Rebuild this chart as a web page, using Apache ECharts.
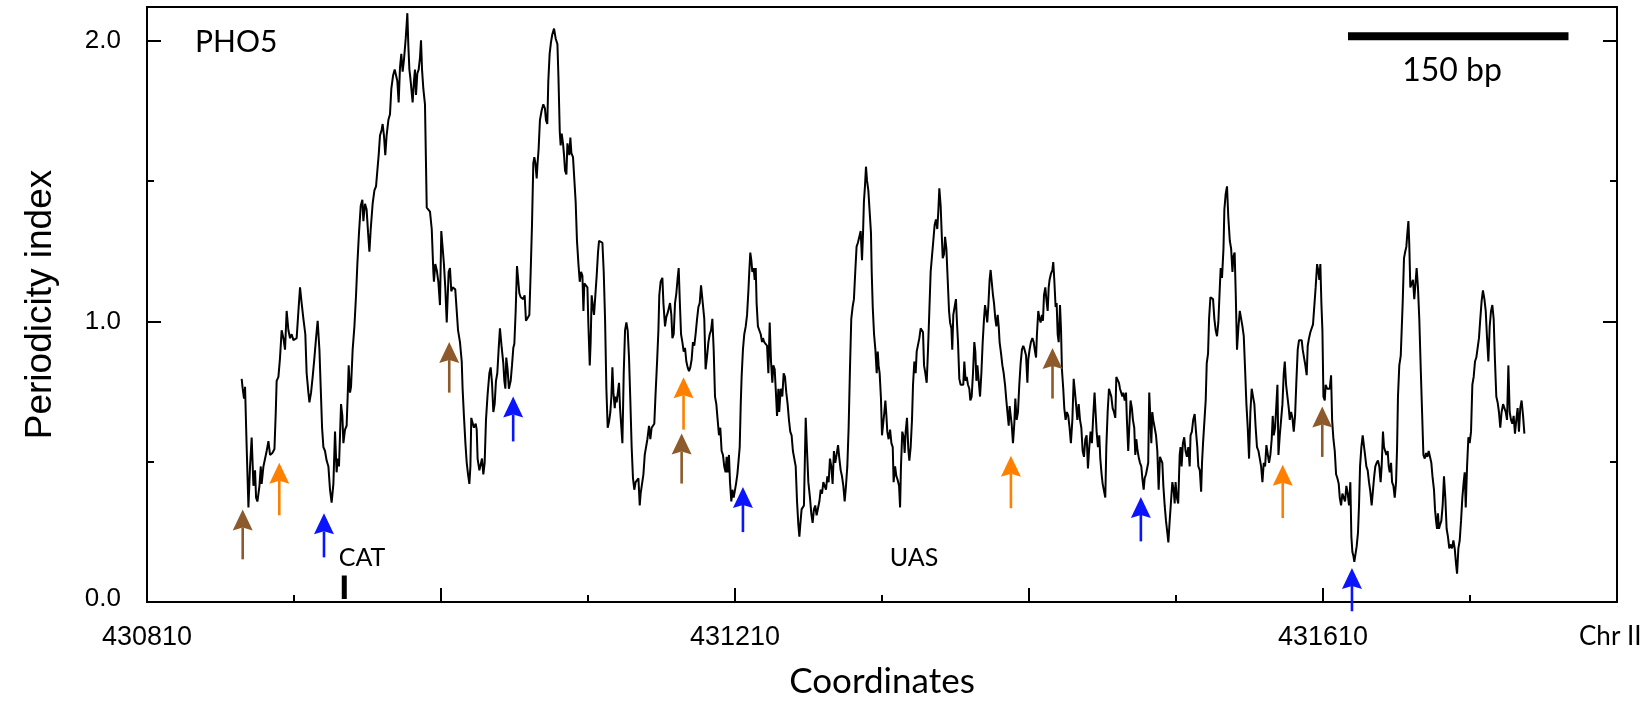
<!DOCTYPE html>
<html>
<head>
<meta charset="utf-8">
<title>PHO5 periodicity index</title>
<script src="https://cdn.jsdelivr.net/npm/echarts@6/dist/echarts.min.js"></script>
<style>
  html, body { margin: 0; padding: 0; background: #ffffff; }
  #chart { width: 1647px; height: 702px; }
</style>
</head>
<body>
<div id="chart"></div>
<script>
// Chromosome II window shown on the x axis
const coordStart = 430810;
const coordEnd = 431810;
const xLabelCoords = [430810, 431210, 431610];
const yLabelValues = [0, 1, 2];
const yMax = 2.12;

// Periodicity index along the PHO5 locus: [coordinate, index]
const periodicity = [
  [430874.4,0.795],[430875.1,0.760],[430876.0,0.725],[430876.7,0.767],[430877.8,0.552],[430879.0,0.337],[430880.1,0.483],[430881.2,0.586],
  [430882.4,0.414],[430883.5,0.469],[430884.2,0.372],[430885.1,0.358],[430886.5,0.414],[430887.4,0.483],[430888.0,0.421],[430889.2,0.483],
  [430890.3,0.489],[430891.4,0.538],[430892.6,0.573],[430893.7,0.524],[430895.3,0.531],[430896.7,0.545],[430897.6,0.677],[430898.2,0.788],
  [430899.4,0.802],[430900.5,0.871],[430901.6,0.968],[430902.8,0.940],[430903.9,0.899],[430905.0,1.037],[430906.2,0.968],[430907.3,0.940],
  [430908.4,0.954],[430909.6,0.933],[430910.7,0.940],[430911.8,0.940],[430913.0,1.037],[430914.1,1.121],[430915.2,1.065],[430916.4,1.009],
  [430917.7,0.954],[430918.6,0.815],[430919.8,0.746],[430920.5,0.711],[430921.6,0.746],[430922.7,0.802],[430923.9,0.871],[430925.0,0.940],
  [430926.1,1.002],[430927.3,0.899],[430928.2,0.760],[430929.1,0.621],[430930.0,0.552],[430931.1,0.538],[430932.2,0.504],[430933.4,0.483],
  [430934.5,0.400],[430935.6,0.354],[430936.8,0.421],[430937.9,0.607],[430939.0,0.462],[430939.7,0.511],[430940.6,0.483],[430942.0,0.705],
  [430942.9,0.663],[430943.6,0.566],[430944.7,0.614],[430945.8,0.628],[430946.5,0.732],[430947.2,0.843],[430948.1,0.746],[430948.8,0.767],
  [430949.9,0.899],[430951.1,0.982],[430952.2,1.093],[430953.1,1.204],[430954.2,1.315],[430955.4,1.412],[430956.5,1.433],[430957.2,1.357],
  [430958.3,1.419],[430959.4,1.398],[430960.4,1.315],[430961.3,1.248],[430962.2,1.329],[430963.5,1.419],[430964.7,1.467],[430965.8,1.481],
  [430966.7,1.537],[430967.6,1.592],[430968.5,1.662],[430969.6,1.682],[430970.3,1.703],[430971.2,1.662],[430972.1,1.592],[430973.0,1.662],
  [430974.2,1.717],[430975.3,1.738],[430976.2,1.828],[430977.4,1.876],[430978.5,1.897],[430979.4,1.904],[430980.3,1.856],[430981.2,1.780],
  [430982.1,1.904],[430983.0,1.953],[430983.9,1.890],[430984.8,1.932],[430986.0,2.008],[430986.7,2.064],[430987.1,2.098],[430987.8,1.980],
  [430988.5,1.897],[430989.1,1.870],[430990.1,1.814],[430990.7,1.780],[430991.6,1.856],[430992.3,1.897],[430993.0,1.807],[430993.9,1.883],
  [430994.8,1.897],[430995.7,1.939],[430996.4,2.001],[430997.1,1.897],[430998.0,1.828],[430999.1,1.773],[431000.3,1.405],[431001.4,1.398],
  [431002.5,1.391],[431003.7,1.329],[431004.8,1.176],[431005.2,1.141],[431006.1,1.204],[431007.1,1.183],[431008.2,1.141],[431009.3,1.058],
  [431010.2,1.322],[431011.1,1.315],[431012.0,1.204],[431012.9,1.121],[431013.9,0.996],[431014.5,0.996],[431015.2,1.176],[431016.1,1.190],
  [431017.0,1.107],[431017.9,1.121],[431018.8,1.128],[431019.7,1.114],[431020.7,1.107],[431021.6,0.968],[431022.9,0.926],[431024.1,0.857],
  [431024.7,0.760],[431025.6,0.663],[431026.6,0.566],[431027.5,0.496],[431028.4,0.455],[431029.3,0.421],[431030.0,0.483],[431030.6,0.656],
  [431031.5,0.649],[431032.4,0.621],[431033.6,0.635],[431034.3,0.614],[431034.9,0.511],[431036.1,0.469],[431037.0,0.469],[431037.9,0.511],
  [431038.8,0.455],[431039.7,0.496],[431040.6,0.649],[431041.7,0.739],[431042.9,0.815],[431043.8,0.836],[431044.7,0.781],[431045.6,0.677],
  [431046.5,0.705],[431047.4,0.788],[431048.3,0.815],[431049.2,0.899],[431050.1,0.975],[431051.3,0.906],[431052.4,0.850],[431053.1,0.788],
  [431053.8,0.760],[431054.4,0.871],[431055.3,0.829],[431056.2,0.760],[431057.4,0.788],[431058.3,0.843],[431059.2,0.906],[431059.9,0.920],
  [431060.8,1.037],[431061.7,1.197],[431062.6,1.190],[431063.3,1.100],[431064.2,1.086],[431065.1,1.093],[431066.0,1.079],[431066.9,1.093],
  [431067.8,1.002],[431068.9,1.009],[431070.1,1.023],[431071.0,1.176],[431071.9,1.343],[431072.8,1.564],[431073.5,1.585],[431074.2,1.564],
  [431075.1,1.509],[431075.7,1.564],[431076.4,1.613],[431077.3,1.717],[431078.5,1.752],[431079.6,1.773],[431080.7,1.759],[431081.4,1.717],
  [431082.3,1.703],[431083.0,1.856],[431083.9,1.953],[431084.8,1.994],[431085.7,2.022],[431086.9,2.043],[431087.8,2.050],[431088.0,2.008],
  [431089.2,1.987],[431089.9,1.870],[431090.8,1.675],[431091.4,1.627],[431092.1,1.669],[431093.0,1.634],[431093.7,1.592],[431094.4,1.537],
  [431095.3,1.523],[431096.0,1.634],[431096.6,1.641],[431097.3,1.592],[431098.0,1.655],[431098.7,1.599],[431099.8,1.585],[431100.7,1.578],
  [431101.6,1.426],[431102.5,1.287],[431103.5,1.204],[431104.4,1.141],[431105.3,1.176],[431106.2,1.162],[431106.9,1.037],[431107.5,1.135],
  [431108.4,1.128],[431109.6,1.121],[431110.3,0.982],[431111.2,0.843],[431111.8,0.926],[431112.5,1.093],[431113.4,1.051],[431114.1,1.023],
  [431115.0,1.093],[431115.9,1.162],[431116.8,1.245],[431117.5,1.287],[431118.6,1.294],[431119.8,1.280],[431120.7,1.176],[431121.6,1.009],
  [431122.5,0.760],[431123.4,0.621],[431124.3,0.642],[431125.2,0.677],[431125.9,0.732],[431126.6,0.836],[431127.3,0.746],[431128.2,0.691],
  [431128.8,0.732],[431129.5,0.711],[431130.4,0.718],[431131.1,0.781],[431131.8,0.691],[431132.7,0.621],[431133.4,0.566],[431134.3,0.815],
  [431135.2,0.968],[431136.1,0.996],[431137.0,0.968],[431137.9,0.871],[431138.8,0.718],[431139.7,0.552],[431140.6,0.441],[431141.5,0.400],
  [431142.4,0.427],[431143.3,0.434],[431144.3,0.441],[431145.2,0.344],[431145.8,0.386],[431146.7,0.379],[431147.7,0.455],[431148.6,0.524],
  [431149.5,0.531],[431150.4,0.580],[431151.5,0.628],[431152.4,0.580],[431153.3,0.621],[431154.2,0.614],[431155.1,0.635],[431156.0,0.746],
  [431157.0,0.857],[431157.9,0.968],[431158.5,1.093],[431159.4,1.141],[431160.6,1.155],[431161.3,1.065],[431162.4,0.982],[431163.3,1.016],
  [431164.2,1.030],[431165.1,1.023],[431165.8,1.065],[431166.7,1.023],[431167.4,0.940],[431168.3,0.954],[431169.2,1.065],[431170.1,1.100],
  [431171.0,1.155],[431171.7,1.190],[431172.4,1.079],[431173.3,0.954],[431174.2,0.926],[431175.1,0.892],[431176.0,0.906],[431176.9,0.857],
  [431177.8,0.836],[431178.7,0.822],[431179.6,0.836],[431180.5,0.864],[431181.4,0.926],[431182.3,0.913],[431183.2,0.954],[431184.2,1.009],
  [431185.1,1.051],[431186.0,1.065],[431186.9,1.128],[431188.2,1.128],[431189.1,1.009],[431190.0,0.829],[431190.9,0.871],[431191.9,0.926],
  [431192.8,0.954],[431193.7,0.968],[431194.6,1.009],[431195.5,0.899],[431196.4,0.732],[431197.3,0.705],[431198.2,0.649],[431199.1,0.594],
  [431200.0,0.621],[431200.9,0.538],[431201.8,0.524],[431202.7,0.483],[431203.6,0.462],[431204.3,0.517],[431205.0,0.462],[431205.9,0.524],
  [431206.6,0.427],[431207.5,0.358],[431208.2,0.400],[431209.1,0.372],[431209.8,0.393],[431210.7,0.421],[431211.6,0.455],[431212.3,0.496],
  [431213.2,0.552],[431213.9,0.705],[431214.5,0.802],[431215.4,0.899],[431216.3,0.954],[431217.3,0.982],[431218.2,1.023],[431219.1,1.107],
  [431219.7,1.176],[431220.4,1.245],[431221.1,1.218],[431221.8,1.176],[431222.7,1.190],[431223.4,1.148],[431224.1,1.190],[431224.7,1.065],
  [431225.6,0.982],[431226.5,0.975],[431227.5,0.954],[431228.4,0.926],[431229.0,0.940],[431229.9,0.926],[431230.9,0.933],[431231.8,0.913],
  [431232.7,0.815],[431233.6,0.996],[431234.5,0.857],[431235.4,0.781],[431236.1,0.843],[431237.0,0.829],[431237.7,0.760],[431238.6,0.663],
  [431239.5,0.760],[431240.1,0.677],[431241.1,0.760],[431242.2,0.732],[431243.1,0.815],[431244.0,0.802],[431244.9,0.746],[431245.8,0.705],
  [431246.7,0.649],[431247.6,0.607],[431248.5,0.594],[431249.4,0.538],[431250.3,0.538],[431251.3,0.483],[431252.2,0.358],[431253.1,0.275],
  [431253.8,0.233],[431254.4,0.275],[431255.3,0.330],[431256.2,0.337],[431256.9,0.344],[431258.1,0.656],[431259.0,0.538],[431259.9,0.427],
  [431261.0,0.372],[431261.9,0.316],[431262.8,0.282],[431263.7,0.330],[431264.6,0.344],[431265.5,0.309],[431266.4,0.303],[431267.4,0.358],
  [431268.3,0.400],[431269.2,0.386],[431270.1,0.427],[431271.0,0.414],[431271.9,0.400],[431272.8,0.448],[431273.7,0.427],[431274.6,0.511],
  [431275.5,0.483],[431276.4,0.421],[431277.3,0.538],[431278.2,0.496],[431279.1,0.524],[431280.1,0.559],[431281.0,0.511],[431281.9,0.469],
  [431282.8,0.448],[431283.7,0.414],[431284.6,0.358],[431285.5,0.414],[431286.4,0.483],[431287.3,0.621],[431288.2,0.829],[431289.1,1.009],
  [431290.0,1.051],[431290.9,1.079],[431291.8,1.176],[431292.7,1.266],[431293.6,1.280],[431294.5,1.287],[431295.5,1.322],[431296.4,1.218],
  [431297.1,1.315],[431297.7,1.426],[431298.4,1.481],[431299.1,1.551],[431299.8,1.502],[431300.7,1.467],[431301.6,1.474],[431302.5,1.315],
  [431303.0,1.176],[431303.7,1.051],[431304.6,0.954],[431305.5,0.899],[431306.4,0.815],[431307.1,0.892],[431307.7,0.843],[431308.4,0.815],
  [431309.3,0.725],[431310.0,0.594],[431310.9,0.587],[431311.6,0.677],[431312.3,0.718],[431313.0,0.663],[431313.6,0.607],[431314.5,0.580],
  [431315.5,0.614],[431316.4,0.566],[431317.3,0.552],[431317.9,0.427],[431318.9,0.483],[431319.8,0.448],[431320.7,0.434],[431321.6,0.414],
  [431322.3,0.337],[431322.9,0.483],[431323.8,0.607],[431324.8,0.587],[431325.4,0.531],[431326.1,0.607],[431327.0,0.656],[431327.9,0.545],
  [431328.6,0.504],[431329.5,0.552],[431330.4,0.649],[431331.1,0.774],[431332.0,0.857],[431332.9,0.815],[431333.6,0.892],[431334.5,0.899],
  [431335.4,0.940],[431336.3,0.975],[431337.2,0.982],[431337.9,0.961],[431338.6,0.843],[431339.5,0.815],[431340.4,0.781],[431341.3,0.899],
  [431342.2,1.037],[431343.1,1.176],[431344.0,1.232],[431344.9,1.287],[431345.8,1.343],[431346.7,1.363],[431347.6,1.329],[431348.3,1.391],
  [431349.0,1.474],[431349.9,1.412],[431350.6,1.315],[431351.3,1.225],[431352.2,1.239],[431352.9,1.301],[431353.8,1.259],[431354.7,1.148],
  [431355.6,1.037],[431356.3,0.996],[431357.2,0.975],[431357.8,0.899],[431358.5,1.023],[431359.4,1.051],[431360.3,1.079],[431361.0,0.996],
  [431361.7,0.926],[431362.6,0.795],[431363.5,0.774],[431364.4,0.781],[431365.3,0.774],[431366.0,0.857],[431366.9,0.788],[431367.6,0.802],
  [431368.5,0.774],[431369.4,0.760],[431370.1,0.718],[431371.0,0.732],[431371.9,0.815],[431372.8,0.926],[431373.5,0.892],[431374.2,0.788],
  [431374.9,0.843],[431375.8,0.788],[431376.7,0.732],[431377.6,0.815],[431378.5,0.926],[431379.4,1.009],[431380.1,1.058],[431380.7,1.037],
  [431381.6,0.996],[431382.3,1.051],[431383.2,1.148],[431383.9,1.183],[431384.8,1.176],[431385.5,1.093],[431386.2,1.065],[431387.1,1.009],
  [431387.8,0.982],[431388.7,1.023],[431389.4,0.982],[431390.0,0.926],[431391.0,0.885],[431391.9,0.843],[431392.8,0.815],[431393.7,0.774],
  [431394.6,0.718],[431395.3,0.677],[431396.2,0.628],[431396.8,0.698],[431397.5,0.691],[431398.2,0.635],[431399.1,0.566],[431400.0,0.635],
  [431400.7,0.725],[431401.6,0.649],[431402.5,0.677],[431403.4,0.774],[431404.3,0.850],[431405.2,0.899],[431406.1,0.913],[431407.0,0.899],
  [431408.0,0.878],[431408.9,0.781],[431409.5,0.864],[431410.4,0.899],[431411.3,0.926],[431412.3,0.940],[431413.2,0.926],[431414.1,0.892],
  [431414.8,0.871],[431415.4,0.954],[431416.3,1.037],[431417.2,1.009],[431417.9,0.996],[431418.8,1.023],[431419.5,1.002],[431420.2,1.093],
  [431421.1,1.121],[431421.8,1.079],[431422.7,1.037],[431423.4,1.121],[431424.0,1.148],[431424.9,1.169],[431425.9,1.183],[431426.5,1.211],
  [431427.2,1.148],[431428.1,1.051],[431428.8,1.065],[431429.5,0.954],[431430.2,0.926],[431431.1,1.058],[431431.8,0.968],[431432.4,0.829],
  [431433.3,0.760],[431434.0,0.691],[431434.9,0.649],[431435.8,0.677],[431436.7,0.663],[431437.6,0.621],[431438.5,0.566],[431439.5,0.649],
  [431440.4,0.795],[431441.3,0.746],[431442.0,0.705],[431442.9,0.649],[431443.8,0.705],[431444.7,0.649],[431445.6,0.621],[431446.5,0.538],
  [431447.4,0.517],[431448.3,0.580],[431449.2,0.594],[431450.1,0.476],[431451.0,0.552],[431451.9,0.607],[431452.8,0.566],[431453.7,0.663],
  [431454.6,0.746],[431455.3,0.677],[431456.0,0.607],[431456.9,0.552],[431457.8,0.594],[431458.5,0.511],[431459.4,0.455],[431460.1,0.421],
  [431461.0,0.427],[431461.9,0.372],[431462.6,0.552],[431463.5,0.677],[431464.4,0.760],[431465.3,0.767],[431466.0,0.732],[431466.9,0.691],
  [431467.8,0.677],[431468.7,0.656],[431469.4,0.802],[431470.3,0.795],[431471.2,0.781],[431471.9,0.760],[431472.8,0.760],[431473.5,0.732],
  [431474.1,0.746],[431475.1,0.718],[431476.0,0.746],[431476.6,0.649],[431477.5,0.538],[431478.2,0.621],[431479.1,0.718],[431480.0,0.691],
  [431480.7,0.649],[431481.6,0.621],[431482.3,0.524],[431483.0,0.580],[431483.9,0.538],[431484.8,0.511],[431485.5,0.496],[431486.4,0.483],
  [431487.1,0.441],[431488.0,0.400],[431488.7,0.441],[431489.6,0.455],[431490.5,0.462],[431491.1,0.496],[431491.8,0.746],[431492.5,0.663],
  [431493.2,0.566],[431493.9,0.677],[431494.5,0.649],[431495.5,0.621],[431496.4,0.594],[431497.3,0.538],[431498.2,0.400],[431499.1,0.517],
  [431500.0,0.517],[431500.7,0.496],[431501.4,0.414],[431502.3,0.344],[431503.2,0.289],[431504.1,0.247],[431504.8,0.212],[431505.7,0.289],
  [431506.6,0.358],[431507.5,0.427],[431508.4,0.400],[431509.1,0.351],[431509.7,0.427],[431510.6,0.372],[431511.5,0.351],[431512.5,0.524],
  [431513.1,0.552],[431513.8,0.483],[431514.7,0.566],[431515.6,0.587],[431516.5,0.538],[431517.4,0.517],[431518.4,0.552],[431519.3,0.483],
  [431519.9,0.594],[431520.8,0.607],[431521.7,0.649],[431522.7,0.670],[431523.6,0.607],[431524.5,0.552],[431525.2,0.483],[431526.2,0.469],
  [431527.1,0.393],[431527.7,0.496],[431528.4,0.566],[431529.6,0.573],[431530.2,0.718],[431530.9,0.850],[431531.8,0.885],[431532.5,1.009],
  [431533.4,1.086],[431534.3,1.093],[431535.2,1.079],[431536.1,1.009],[431537.0,0.968],[431537.9,0.947],[431538.8,0.996],[431539.8,1.121],
  [431540.4,1.190],[431541.3,1.155],[431542.3,1.259],[431542.9,1.398],[431543.8,1.454],[431544.7,1.481],[431545.6,1.370],[431546.6,1.287],
  [431547.5,1.259],[431548.4,1.176],[431549.1,1.232],[431549.9,1.245],[431550.6,1.107],[431551.5,0.899],[431552.5,0.982],[431553.4,1.037],
  [431554.3,1.037],[431555.2,0.982],[431556.1,0.947],[431557.0,0.829],[431557.9,0.705],[431558.8,0.621],[431559.7,0.511],[431560.6,0.677],
  [431561.5,0.760],[431562.4,0.732],[431563.3,0.705],[431564.2,0.621],[431565.1,0.552],[431566.1,0.538],[431567.0,0.511],[431567.9,0.483],
  [431568.8,0.427],[431569.7,0.496],[431570.6,0.483],[431571.5,0.559],[431572.4,0.552],[431573.3,0.496],[431574.2,0.524],[431575.1,0.580],
  [431575.8,0.663],[431576.5,0.594],[431577.4,0.621],[431578.3,0.705],[431579.0,0.774],[431579.7,0.524],[431580.6,0.594],[431581.5,0.649],
  [431582.4,0.705],[431583.3,0.815],[431584.0,0.857],[431584.9,0.774],[431585.8,0.732],[431586.7,0.691],[431587.4,0.649],[431588.3,0.677],
  [431589.2,0.656],[431590.1,0.607],[431591.0,0.663],[431591.9,0.788],[431592.8,0.899],[431593.7,0.933],[431594.6,0.940],[431595.5,0.933],
  [431596.2,0.899],[431597.1,0.871],[431598.0,0.843],[431598.9,0.808],[431599.6,0.913],[431600.5,0.940],[431601.4,0.961],[431602.3,0.968],
  [431603.2,0.989],[431604.1,0.996],[431605.0,1.121],[431606.0,1.204],[431606.9,1.176],[431607.5,1.148],[431608.2,1.204],[431608.9,1.065],
  [431609.6,0.968],[431610.3,0.732],[431611.2,0.718],[431611.8,0.774],[431612.8,0.760],[431613.7,0.767],[431614.6,0.760],[431615.5,0.808],
  [431616.2,0.649],[431617.1,0.580],[431618.0,0.538],[431618.9,0.455],[431619.8,0.441],[431620.7,0.421],[431621.4,0.372],[431622.3,0.344],
  [431623.2,0.386],[431624.1,0.372],[431625.0,0.358],[431625.9,0.414],[431626.8,0.386],[431627.7,0.344],[431628.6,0.427],[431629.3,0.233],
  [431630.0,0.178],[431630.7,0.164],[431631.3,0.143],[431632.0,0.136],[431632.9,0.198],[431633.8,0.247],[431634.5,0.344],[431635.2,0.483],
  [431636.1,0.552],[431637.0,0.594],[431637.9,0.600],[431638.6,0.524],[431639.5,0.483],[431640.4,0.469],[431641.3,0.427],[431642.2,0.393],
  [431643.1,0.344],[431643.8,0.386],[431644.7,0.441],[431645.6,0.483],[431646.5,0.496],[431647.4,0.504],[431648.3,0.483],[431649.2,0.427],
  [431649.9,0.483],[431650.8,0.607],[431651.5,0.552],[431652.4,0.559],[431653.1,0.524],[431654.0,0.538],[431654.7,0.483],[431655.4,0.462],
  [431656.3,0.496],[431657.0,0.427],[431657.9,0.414],[431658.8,0.372],[431659.7,0.427],[431660.4,0.552],[431661.0,0.732],[431661.9,0.843],
  [431662.9,0.878],[431663.5,0.885],[431664.2,1.065],[431665.1,1.225],[431665.8,1.245],[431666.7,1.266],[431667.4,1.315],[431668.1,1.357],
  [431668.7,1.273],[431669.4,1.121],[431670.3,1.121],[431671.2,1.148],[431672.1,1.079],[431673.1,1.148],[431673.7,1.190],[431674.6,1.121],
  [431675.5,1.009],[431676.5,0.829],[431677.4,0.677],[431678.3,0.524],[431679.2,0.511],[431680.1,0.531],[431681.0,0.517],[431681.9,0.538],
  [431682.8,0.531],[431683.7,0.496],[431684.6,0.441],[431685.5,0.400],[431686.2,0.330],[431686.9,0.289],[431687.6,0.261],[431688.2,0.316],
  [431688.9,0.261],[431689.6,0.275],[431690.5,0.289],[431691.4,0.344],[431692.3,0.448],[431693.2,0.372],[431694.1,0.261],[431695.0,0.233],
  [431695.9,0.191],[431696.9,0.205],[431697.8,0.191],[431698.7,0.219],[431699.6,0.191],[431700.5,0.136],[431701.2,0.101],[431702.1,0.191],
  [431703.0,0.219],[431703.9,0.289],[431704.8,0.372],[431705.7,0.427],[431706.4,0.462],[431707.1,0.337],[431708.0,0.483],[431708.9,0.587],
  [431709.8,0.566],[431710.7,0.607],[431711.6,0.774],[431712.5,0.802],[431713.4,0.857],[431714.3,0.871],[431715.2,0.878],[431716.1,0.940],
  [431717.0,1.009],[431717.9,1.072],[431718.8,1.110],[431719.8,1.079],[431720.7,1.037],[431721.6,0.940],[431722.5,0.857],[431723.4,0.982],
  [431724.3,1.037],[431725.2,1.058],[431726.1,1.009],[431727.0,0.857],[431727.9,0.732],[431728.8,0.711],[431729.7,0.677],[431730.6,0.621],
  [431731.5,0.677],[431732.5,0.705],[431733.4,0.691],[431734.3,0.677],[431735.2,0.649],[431736.1,0.843],[431737.0,0.677],[431737.9,0.649],
  [431738.8,0.635],[431739.7,0.663],[431740.6,0.600],[431741.5,0.649],[431742.4,0.691],[431743.3,0.607],[431744.2,0.691],[431745.1,0.718],
  [431746.1,0.663],[431747.0,0.600]
];

// Upward arrows: [coordinate, tip index, tail index]
const brownArrows = [
  [430875.1, 0.330, 0.152],
  [431015.6, 0.926, 0.746],
  [431173.7, 0.600, 0.422],
  [431426.0, 0.905, 0.725],
  [431609.5, 0.697, 0.517]
];
const orangeArrows = [
  [430900.0, 0.496, 0.309],
  [431175.0, 0.801, 0.614],
  [431397.7, 0.521, 0.334],
  [431582.6, 0.489, 0.299]
];
const blueArrows = [
  [430930.4, 0.316, 0.159],
  [431059.1, 0.732, 0.572],
  [431215.4, 0.410, 0.249],
  [431486.1, 0.374, 0.216],
  [431629.7, 0.121, -0.033]
];

// CAT box marker: [coordinate, bottom, top]
const catMark = [430944.2, 0.011, 0.094];
// 150 bp scale bar: [from, to, level]
const scaleBar = [431627, 431777, 2.016];

const colors = { brown: '#8c5a2b', orange: '#ff8000', blue: '#0a14ff', ink: '#000000' };
const sansTicks = '"Liberation Sans", Arial, Helvetica, sans-serif';
const sansText = 'Lato, "Open Sans", sans-serif';

const rel = c => c - coordStart;

function arrowSeries(name, rows, color) {
  return {
    name: name,
    type: 'custom',
    clip: false,
    silent: true,
    z: 4,
    encode: { x: 0, y: [1, 2] },
    data: rows.map(r => [rel(r[0]), r[1], r[2]]),
    renderItem: function (params, api) {
      const tip = api.coord([api.value(0), api.value(1)]);
      const tail = api.coord([api.value(0), api.value(2)]);
      const headH = 21, halfW = 10, notch = 3;
      return {
        type: 'group',
        children: [
          {
            type: 'line',
            shape: { x1: tail[0], y1: tail[1], x2: tip[0], y2: tip[1] + headH - notch },
            style: { stroke: color, lineWidth: 2.6 }
          },
          {
            type: 'polygon',
            shape: { points: [
              [tip[0], tip[1]],
              [tip[0] + halfW, tip[1] + headH],
              [tip[0], tip[1] + headH - notch],
              [tip[0] - halfW, tip[1] + headH]
            ] },
            style: { fill: color }
          }
        ]
      };
    }
  };
}

const yMajor = {
  type: 'value', min: 0, max: yMax, interval: 1,
  axisLine: { show: false },
  splitLine: { show: false },
  axisTick: { show: true, inside: true, length: 14, lineStyle: { color: colors.ink, width: 2 } }
};
const yMinor = {
  type: 'value', min: 0, max: yMax, interval: 0.5,
  axisLine: { show: false },
  splitLine: { show: false },
  axisLabel: { show: false },
  axisTick: { show: true, inside: true, length: 7, lineStyle: { color: colors.ink, width: 2 } }
};

const chart = echarts.init(document.getElementById('chart'), null, { renderer: 'canvas' });

chart.setOption({
  animation: false,
  backgroundColor: '#ffffff',
  grid: {
    left: 147, right: 30, top: 7, bottom: 100,
    containLabel: false,
    outerBoundsMode: 'none',
    show: true, borderColor: colors.ink, borderWidth: 2, backgroundColor: 'transparent'
  },
  xAxis: [
    {
      type: 'value', min: 0, max: coordEnd - coordStart, interval: 200, position: 'bottom',
      axisLine: { show: false },
      splitLine: { show: false },
      axisTick: { show: true, inside: true, length: 14, lineStyle: { color: colors.ink, width: 2 } },
      axisLabel: {
        margin: 22,
        fontSize: 27,
        fontFamily: sansTicks,
        color: colors.ink,
        formatter: v => xLabelCoords.indexOf(v + coordStart) >= 0 ? String(v + coordStart) : ''
      },
      name: 'Coordinates',
      nameLocation: 'middle',
      nameGap: 62,
      nameTextStyle: { fontSize: 35, fontFamily: sansText, color: colors.ink }
    },
    {
      type: 'value', min: 0, max: coordEnd - coordStart, interval: 100, position: 'bottom',
      axisLine: { show: false },
      splitLine: { show: false },
      axisLabel: { show: false },
      axisTick: { show: true, inside: true, length: 7, lineStyle: { color: colors.ink, width: 2 } }
    }
  ],
  yAxis: [
    Object.assign({}, yMajor, {
      position: 'left',
      axisLabel: {
        margin: 26,
        fontSize: 26,
        fontFamily: sansTicks,
        color: colors.ink,
        formatter: v => {
          if (yLabelValues.indexOf(v) < 0) return '';
          return v === 0 ? '{low|' + v.toFixed(1) + '}' : v.toFixed(1);
        },
        rich: {
          low: { fontSize: 26, fontFamily: sansTicks, color: colors.ink, padding: [0, 0, 6, 0] }
        }
      },
      name: 'Periodicity index',
      nameLocation: 'middle',
      nameGap: 88,
      nameTextStyle: { fontSize: 37, fontFamily: sansTicks, color: colors.ink }
    }),
    Object.assign({}, yMinor, { position: 'left' }),
    Object.assign({}, yMajor, { position: 'right', axisLabel: { show: false } }),
    Object.assign({}, yMinor, { position: 'right' })
  ],
  graphic: [
    { type: 'text', left: 195, top: 27, style: { text: 'PHO5', font: '30px ' + sansText, fill: colors.ink } },
    { type: 'text', x: 1452, y: 71, style: { text: '150 bp', font: '32px ' + sansText, fill: colors.ink, textAlign: 'center', textVerticalAlign: 'middle' } },
    { type: 'text', x: 362, y: 558, style: { text: 'CAT', font: '25px ' + sansText, fill: colors.ink, textAlign: 'center', textVerticalAlign: 'middle' } },
    { type: 'text', x: 914, y: 558, style: { text: 'UAS', font: '25px ' + sansText, fill: colors.ink, textAlign: 'center', textVerticalAlign: 'middle' } },
    { type: 'text', x: 1579, y: 637, style: { text: 'Chr II', font: '26px ' + sansText, fill: colors.ink, textAlign: 'left', textVerticalAlign: 'middle' } }
  ],
  series: [
    {
      name: 'Periodicity index',
      type: 'line',
      symbol: 'none',
      silent: true,
      z: 3,
      lineStyle: { color: colors.ink, width: 2 },
      data: periodicity.map(p => [rel(p[0]), p[1]])
    },
    {
      name: 'CAT',
      type: 'line',
      symbol: 'none',
      silent: true,
      lineStyle: { color: colors.ink, width: 5, cap: 'butt' },
      data: [[rel(catMark[0]), catMark[1]], [rel(catMark[0]), catMark[2]]]
    },
    {
      name: '150 bp',
      type: 'line',
      symbol: 'none',
      silent: true,
      lineStyle: { color: colors.ink, width: 8, cap: 'butt' },
      data: [[rel(scaleBar[0]), scaleBar[2]], [rel(scaleBar[1]), scaleBar[2]]]
    },
    arrowSeries('brown', brownArrows, colors.brown),
    arrowSeries('orange', orangeArrows, colors.orange),
    arrowSeries('blue', blueArrows, colors.blue)
  ]
});
</script>
</body>
</html>
